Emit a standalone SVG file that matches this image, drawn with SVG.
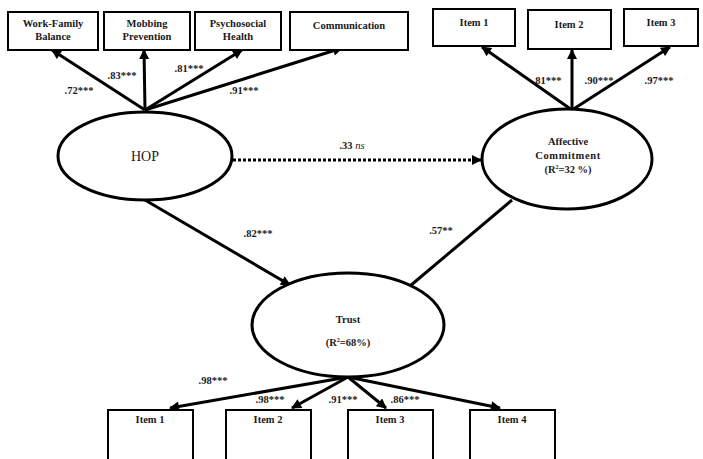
<svg xmlns="http://www.w3.org/2000/svg" width="703" height="459" viewBox="0 0 703 459">
<style>
.box{fill:#fff;stroke:#000;stroke-width:2}
.ell{fill:#fff;stroke:#000;stroke-width:3}
.t{font-family:"Liberation Serif","Times New Roman",serif;font-size:10.5px;font-weight:bold;text-anchor:middle;fill:#1a1a1a}
.lab{font-family:"Liberation Serif","Times New Roman",serif;font-size:10.5px;font-weight:bold;text-anchor:middle;fill:#1a1a1a}
.c{stroke:#000;stroke-width:3;fill:none}
</style>
<defs>
<marker id="ah" viewBox="0 0 10 10" refX="9" refY="5" markerWidth="11" markerHeight="10" markerUnits="userSpaceOnUse" orient="auto"><path d="M0,0 L10,5 L0,10 z" fill="#000"/></marker>
</defs>
<rect width="703" height="459" fill="#fff"/>
<g id="connectors">
<line class="c" x1="145" y1="110" x2="52" y2="50" marker-end="url(#ah)"/>
<line class="c" x1="145" y1="110" x2="144" y2="50" marker-end="url(#ah)"/>
<line class="c" x1="145" y1="110" x2="242" y2="50" marker-end="url(#ah)"/>
<line class="c" x1="145" y1="110" x2="342" y2="48" marker-end="url(#ah)"/>
<line class="c" x1="572" y1="110" x2="482" y2="47" marker-end="url(#ah)"/>
<line class="c" x1="572" y1="110" x2="572" y2="50" marker-end="url(#ah)"/>
<line class="c" x1="572" y1="110" x2="670" y2="47" marker-end="url(#ah)"/>
<line class="c" x1="233" y1="160" x2="481" y2="160" stroke-dasharray="3,2" marker-end="url(#ah)"/>
<line class="c" x1="145" y1="200" x2="290" y2="285" marker-end="url(#ah)"/>
<line class="c" x1="512" y1="200" x2="410" y2="286"/>
<line class="c" x1="348" y1="377" x2="170" y2="408" marker-end="url(#ah)"/>
<line class="c" x1="348" y1="377" x2="292" y2="408" marker-end="url(#ah)"/>
<line class="c" x1="348" y1="377" x2="386" y2="408" marker-end="url(#ah)"/>
<line class="c" x1="348" y1="377" x2="500" y2="408" marker-end="url(#ah)"/>
<text class="lab" x="79" y="94">.72***</text>
<text class="lab" x="122" y="79">.83***</text>
<text class="lab" x="189" y="72">.81***</text>
<text class="lab" x="244" y="94">.91***</text>
<text class="lab" x="547" y="84">.81***</text>
<text class="lab" x="599" y="84">.90***</text>
<text class="lab" x="659" y="84">.97***</text>
<text class="lab" x="352" y="149">.33 <tspan font-style="italic" font-weight="normal">ns</tspan></text>
<text class="lab" x="258" y="237">.82***</text>
<text class="lab" x="441" y="234">.57**</text>
<text class="lab" x="213" y="384">.98***</text>
<text class="lab" x="270" y="403">.98***</text>
<text class="lab" x="343" y="403">.91***</text>
<text class="lab" x="405" y="403">.86***</text>
</g>
<g id="wfb"><rect class="box" x="8" y="12" width="90" height="38"/><text class="t" x="53" y="27">Work-Family</text><text class="t" x="53" y="40">Balance</text></g>
<g id="mobbing"><rect class="box" x="104" y="12" width="86" height="38"/><text class="t" x="147" y="27">Mobbing</text><text class="t" x="147" y="40">Prevention</text></g>
<g id="psych"><rect class="box" x="195" y="12" width="86" height="38"/><text class="t" x="238" y="27">Psychosocial</text><text class="t" x="238" y="40">Health</text></g>
<g id="comm"><rect class="box" x="290" y="12" width="118" height="38"/><text class="t" x="349" y="29">Communication</text></g>
<g id="ac1"><rect class="box" x="433" y="9" width="82" height="37"/><text class="t" x="474" y="26">Item 1</text></g>
<g id="ac2"><rect class="box" x="528" y="10" width="83" height="39"/><text class="t" x="569" y="28">Item 2</text></g>
<g id="ac3"><rect class="box" x="624" y="9" width="74" height="37"/><text class="t" x="661" y="26">Item 3</text></g>
<g id="hop"><ellipse class="ell" cx="145" cy="156" rx="87" ry="44"/><text x="145" y="161" font-family="Liberation Serif, serif" font-size="14" text-anchor="middle" fill="#1a1a1a">HOP</text></g>
<g id="affective"><ellipse class="ell" cx="567" cy="159" rx="85" ry="50" stroke-width="2.5"/><text class="t" x="568" y="145">Affective</text><text class="t" x="568" y="159" letter-spacing="0.6">Commitment</text><text class="t" x="568" y="173">(R<tspan font-size="6" dy="-4">2</tspan><tspan dy="4">=32 %)</tspan></text></g>
<g id="trust"><ellipse class="ell" cx="348" cy="325" rx="96" ry="52"/><text class="t" x="348" y="323">Trust</text><text class="t" x="348" y="346">(R<tspan font-size="6" dy="-4">2</tspan><tspan dy="4">=68%)</tspan></text></g>
<g id="tr1"><rect class="box" x="108" y="410" width="85" height="55"/><text class="t" x="150" y="423">Item 1</text></g>
<g id="tr2"><rect class="box" x="226" y="410" width="85" height="55"/><text class="t" x="268" y="423">Item 2</text></g>
<g id="tr3"><rect class="box" x="348" y="410" width="85" height="55"/><text class="t" x="390" y="423">Item 3</text></g>
<g id="tr4"><rect class="box" x="470" y="410" width="85" height="55"/><text class="t" x="512" y="423">Item 4</text></g>
</svg>
